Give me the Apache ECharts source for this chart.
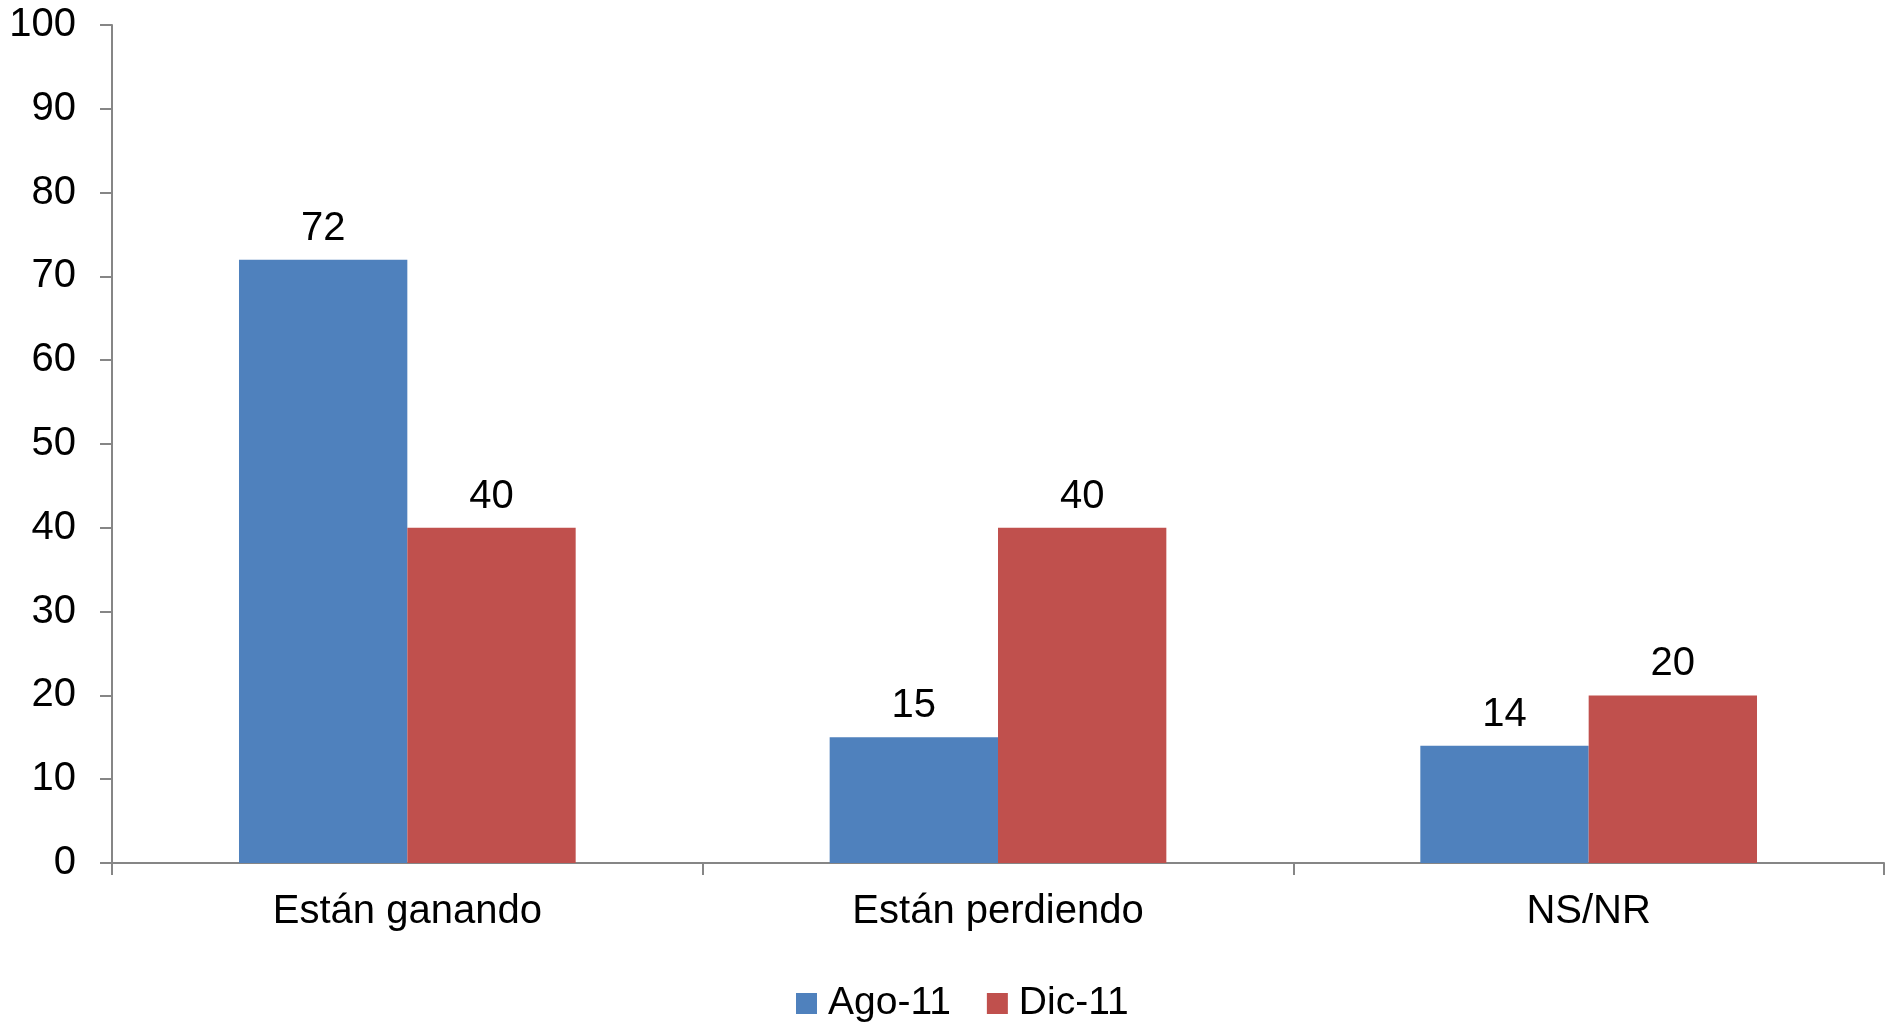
<!DOCTYPE html>
<html>
<head>
<meta charset="utf-8">
<script src="https://cdn.jsdelivr.net/npm/echarts@6/dist/echarts.min.js"></script>
<style>html,body{margin:0;padding:0;background:#fff}#c{width:1888px;height:1025px}</style>
</head>
<body>
<div id="c"></div>
<script>
const categories = ['Están ganando', 'Están perdiendo', 'NS/NR'];
const seriesNames = ['Ago-11', 'Dic-11'];
const ago11 = [72, 15, 14];
const dic11 = [40, 40, 20];
const yTicks = [0, 10, 20, 30, 40, 50, 60, 70, 80, 90, 100];

const FONT = 'Liberation Sans, Arial, sans-serif';
const FS = 40;
const chart = echarts.init(document.getElementById('c'), null, {renderer: 'canvas'});
const axisColor = '#868686';
const labelCfg = {show: true, position: 'top', distance: 11, color: '#000', fontSize: FS, fontFamily: FONT};
chart.setOption({
  animation: false,
  backgroundColor: '#fff',
  grid: {left: 112, right: 4, top: 25, bottom: 162, containLabel: false},
  legend: {
    data: seriesNames, left: 796, top: 984, padding: 0,
    itemWidth: 21, itemHeight: 21, itemGap: 36,
    icon: 'rect',
    textStyle: {fontSize: 39, fontFamily: FONT, color: '#000', padding: [0, 0, 0, 6]}
  },
  xAxis: {
    type: 'category', data: categories,
    axisLine: {lineStyle: {color: axisColor, width: 2}},
    axisTick: {show: true, length: 12, lineStyle: {color: axisColor, width: 2}, alignWithLabel: false},
    axisLabel: {fontSize: FS, fontFamily: FONT, color: '#000', margin: 29},
    splitLine: {show: false}
  },
  yAxis: {
    type: 'value', min: yTicks[0], max: yTicks[yTicks.length - 1], interval: 10,
    axisLine: {show: true, lineStyle: {color: axisColor, width: 2}},
    axisTick: {show: true, length: 12, lineStyle: {color: axisColor, width: 2}},
    axisLabel: {fontSize: FS, fontFamily: FONT, color: '#000', margin: 36},
    splitLine: {show: false}
  },
  series: [
    {name: seriesNames[0], type: 'bar', data: ago11, barGap: '0%', barCategoryGap: '43%',
     itemStyle: {color: '#4F81BD'}, label: labelCfg},
    {name: seriesNames[1], type: 'bar', data: dic11, barGap: '0%', barCategoryGap: '43%',
     itemStyle: {color: '#C0504D'}, label: labelCfg}
  ]
});
</script>
</body>
</html>
